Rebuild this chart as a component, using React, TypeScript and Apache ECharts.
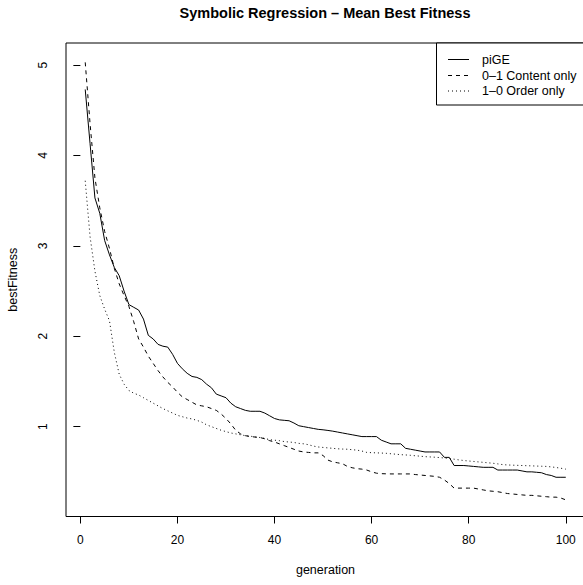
import React, { useEffect, useRef } from "react";
import * as echarts from "echarts";

const generations: number[] = Array.from({ length: 100 }, (_, i) => i + 1);

const piGE: number[] = [
  4.73, 4.13, 3.53, 3.36, 3.06, 2.9, 2.76, 2.67, 2.5, 2.35,
  2.32, 2.29, 2.19, 2.01, 1.97, 1.91, 1.89, 1.88, 1.8, 1.7,
  1.64, 1.59, 1.555, 1.545, 1.52, 1.47, 1.43, 1.36, 1.34, 1.32,
  1.26, 1.22, 1.2, 1.18, 1.17, 1.17, 1.17, 1.15, 1.12, 1.09,
  1.075, 1.07, 1.065, 1.04, 1.01, 1.0, 0.99, 0.98, 0.97, 0.965,
  0.958, 0.95, 0.94, 0.93, 0.92, 0.91, 0.9, 0.89, 0.89, 0.89,
  0.89, 0.85, 0.83, 0.81, 0.81, 0.81, 0.76, 0.75, 0.74, 0.73,
  0.72, 0.72, 0.72, 0.72, 0.66, 0.66, 0.57, 0.57, 0.57, 0.565,
  0.56, 0.555, 0.55, 0.55, 0.55, 0.52, 0.52, 0.52, 0.52, 0.52,
  0.51, 0.5, 0.5, 0.495, 0.49, 0.47, 0.46, 0.44, 0.44, 0.44,
];

const contentOnly: number[] = [
  5.03, 4.35, 3.75, 3.42, 3.16, 2.97, 2.75, 2.58, 2.45, 2.33,
  2.16, 1.97, 1.88, 1.78, 1.7, 1.62, 1.55, 1.49, 1.44, 1.38,
  1.33, 1.3, 1.27, 1.24, 1.23, 1.22, 1.2, 1.18, 1.14, 1.09,
  1.03, 0.96, 0.92, 0.9, 0.89, 0.885, 0.88, 0.865, 0.845, 0.83,
  0.81, 0.79, 0.77, 0.75, 0.73, 0.72, 0.715, 0.71, 0.71, 0.68,
  0.63, 0.61, 0.6, 0.59, 0.56, 0.545, 0.535, 0.53, 0.52, 0.5,
  0.485, 0.48, 0.478, 0.477, 0.477, 0.477, 0.477, 0.477, 0.47, 0.465,
  0.46, 0.455, 0.45, 0.44, 0.41, 0.37, 0.32, 0.32, 0.32, 0.32,
  0.32, 0.31, 0.3, 0.29, 0.285, 0.28, 0.27, 0.26, 0.255, 0.25,
  0.245, 0.24, 0.24, 0.235, 0.23, 0.225, 0.22, 0.22, 0.21, 0.19,
];

const orderOnly: number[] = [
  3.72, 3.1, 2.72, 2.45, 2.3, 2.17, 1.82, 1.58, 1.47, 1.4,
  1.37, 1.35, 1.32, 1.29, 1.26, 1.23, 1.2, 1.175, 1.15, 1.125,
  1.11, 1.095, 1.085, 1.07, 1.05, 1.02, 1.0, 0.98, 0.96, 0.945,
  0.93, 0.92, 0.91, 0.9, 0.895, 0.885, 0.88, 0.87, 0.855, 0.85,
  0.845, 0.835, 0.83, 0.825, 0.815, 0.81, 0.8, 0.785, 0.775, 0.77,
  0.765, 0.76, 0.755, 0.752, 0.75, 0.745, 0.74, 0.73, 0.715, 0.712,
  0.71, 0.708, 0.705, 0.7, 0.695, 0.69, 0.687, 0.683, 0.678, 0.673,
  0.668, 0.665, 0.662, 0.658, 0.653, 0.648, 0.64, 0.632, 0.625, 0.62,
  0.615, 0.61, 0.605, 0.6, 0.595, 0.588, 0.58, 0.576, 0.574, 0.572,
  0.57, 0.568, 0.566, 0.564, 0.562, 0.56, 0.555, 0.548, 0.54, 0.53,
];

const xTicks: number[] = [0, 20, 40, 60, 80, 100];
const yTicks: number[] = [1, 2, 3, 4, 5];
const seriesNames: string[] = ["piGE", "0\u20131 Content only", "1\u20130 Order only"];

const FONT = "'Liberation Sans', Arial, Helvetica, sans-serif";

export default function App() {
  const ref = useRef<HTMLDivElement>(null);
  useEffect(() => {
    document.body.style.margin = "0";
    if (!ref.current) return;
    const chart = echarts.init(ref.current, undefined, { renderer: "svg" });
    const pair = (arr: number[]) => generations.map((g, i) => [g, arr[i]]);
    const dashes: any[] = ["solid", [4, 4], [1, 3]];
    const legendRows = [59.5, 75.5, 91];
    chart.setOption({
      animation: false,
      backgroundColor: "#ffffff",
      title: {
        text: "Symbolic Regression \u2013 Mean Best Fitness",
        left: 325,
        textAlign: "center",
        top: 5,
        padding: 0,
        textStyle: { fontFamily: FONT, fontSize: 14.5, fontWeight: "bold", color: "#000" },
      },
      grid: {
        left: 66,
        top: 43,
        width: 519,
        height: 473.5,
        containLabel: false,
        outerBoundsMode: "none",
        show: true,
        borderColor: "#000",
        borderWidth: 1,
        backgroundColor: "transparent",
      },
      xAxis: {
        type: "value",
        min: -2.96,
        max: 103.96,
        name: "generation",
        nameLocation: "middle",
        nameGap: 47,
        nameTextStyle: { fontFamily: FONT, fontSize: 12.5, color: "#000" },
        axisLine: { show: false },
        splitLine: { show: false },
        axisTick: {
          show: true,
          length: 7,
          customValues: xTicks,
          lineStyle: { color: "#000", width: 1 },
        },
        axisLabel: {
          customValues: xTicks,
          margin: 17,
          fontFamily: FONT,
          fontSize: 12,
          color: "#000",
        },
      },
      yAxis: {
        type: "value",
        min: 0.006,
        max: 5.244,
        name: "bestFitness",
        nameLocation: "middle",
        nameGap: 47,
        nameRotate: 90,
        nameTextStyle: { fontFamily: FONT, fontSize: 12.5, color: "#000" },
        axisLine: { show: false },
        splitLine: { show: false },
        axisTick: {
          show: true,
          length: 7,
          customValues: yTicks,
          lineStyle: { color: "#000", width: 1 },
        },
        axisLabel: {
          customValues: yTicks,
          rotate: 90,
          margin: 17,
          fontFamily: FONT,
          fontSize: 12,
          color: "#000",
        },
      },
      series: [piGE, contentOnly, orderOnly].map((arr, i) => ({
        type: "line",
        name: seriesNames[i],
        data: pair(arr),
        showSymbol: false,
        symbol: "none",
        lineStyle: { color: "#000", width: 1, type: dashes[i] },
      })),
      graphic: [
        {
          type: "rect",
          shape: { x: 436.5, y: 43, width: 170, height: 62 },
          style: { fill: "#fff", stroke: "#000", lineWidth: 1 },
          z: 100,
        },
        ...seriesNames.map((n, i) => ({
          type: "line",
          shape: { x1: 448, y1: legendRows[i], x2: 469, y2: legendRows[i] },
          style: {
            stroke: "#000",
            lineWidth: 1,
            lineDash: i === 0 ? null : i === 1 ? [4, 4] : [1, 3],
          },
          z: 101,
        })),
        ...seriesNames.map((n, i) => ({
          type: "text",
          x: 482,
          y: legendRows[i],
          style: {
            text: n,
            fontFamily: FONT,
            fontSize: 12.5,
            fill: "#000",
            verticalAlign: "middle",
            textAlign: "left",
          },
          z: 101,
        })),
      ],
    });
    return () => chart.dispose();
  }, []);
  return (
    <div
      ref={ref}
      style={{ width: 583, height: 585, position: "absolute", left: 0, top: 0 }}
    />
  );
}
